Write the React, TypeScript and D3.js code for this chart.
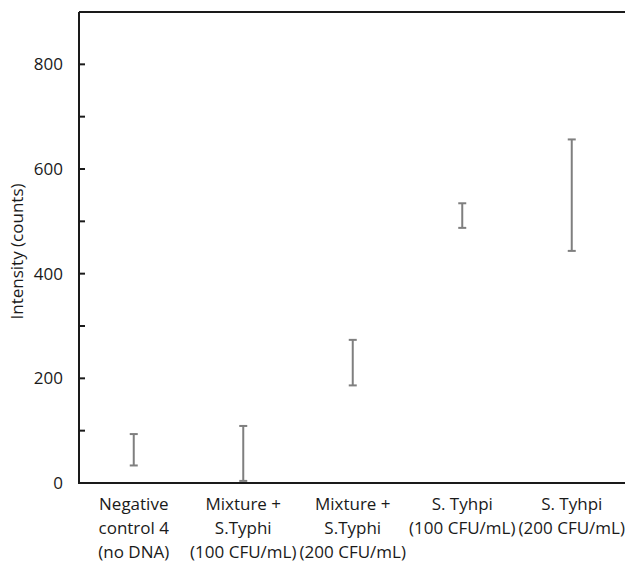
import * as d3 from "d3";

const categories = [
  ["Negative", "control 4", "(no DNA)"],
  ["Mixture +", "S.Typhi", "(100 CFU/mL)"],
  ["Mixture +", "S.Typhi", "(200 CFU/mL)"],
  ["S. Tyhpi", "(100 CFU/mL)"],
  ["S. Tyhpi", "(200 CFU/mL)"],
];
const means = [63.5, 56.5, 230, 511, 550];
const errors = [30, 52.5, 43.5, 23.5, 106.5];
const yTicks = [0, 200, 400, 600, 800];
const yMinorTicks = [100, 300, 500, 700];

const W = 625;
const H = 564;
const FONT = "'Open Sans', 'Noto Sans', sans-serif";

const App = () => {
  const left = 79;
  const top = 12;
  const bottom = 483;
  const right = 626.5;

  const x = d3
    .scaleBand()
    .domain(categories.map((_, i) => String(i)))
    .range([left, right]);
  const y = d3.scaleLinear().domain([0, 900]).range([bottom, top]);

  const barColor = "#7f7f7f";
  const cap = 4;

  return (
    <div style={{ position: "absolute", left: 0, top: 0 }}>
      <svg width={W} height={H} style={{ display: "block", background: "#fff" }}>
        {/* error bars */}
        {means.map((m, i) => {
          const cx = x(String(i))! + x.bandwidth() / 2;
          const y1 = y(m + errors[i]);
          const y0 = y(Math.max(0, m - errors[i]));
          return (
            <g key={i} stroke={barColor} strokeWidth={2}>
              <line x1={cx} x2={cx} y1={y1} y2={y0} />
              <line x1={cx - cap} x2={cx + cap} y1={y1} y2={y1} />
              <line x1={cx - cap} x2={cx + cap} y1={y0} y2={y0} />
            </g>
          );
        })}

        {/* frame */}
        <g stroke="#1a1a1a" strokeWidth={2} fill="none">
          <line x1={left} x2={left} y1={top} y2={bottom + 1} />
          <line x1={left} x2={W} y1={top} y2={top} />
          <line x1={left - 1} x2={W} y1={bottom} y2={bottom} />
          <line x1={right} x2={right} y1={top} y2={bottom} />
        </g>

        {/* y ticks, inside */}
        <g stroke="#1a1a1a" strokeWidth={2}>
          {yTicks.concat(yMinorTicks).filter((t) => t > 0).map((t) => (
            <line key={t} x1={left} x2={left + 6} y1={y(t)} y2={y(t)} />
          ))}
        </g>
        <g fontFamily={FONT} fontSize={17} fill="#1a1a1a">
          {yTicks.map((t) => (
            <text key={t} x={63} y={y(t)} dy="0.35em" textAnchor="end">
              {t}
            </text>
          ))}
          <text
            transform={`translate(23, ${(top + bottom) / 2 + 4}) rotate(-90)`}
            textAnchor="middle"
          >
            Intensity (counts)
          </text>
          {categories.map((lines, i) => {
            const cx = x(String(i))! + x.bandwidth() / 2;
            return (
              <text key={i} x={cx} y={510} textAnchor="middle">
                {lines.map((l, j) => (
                  <tspan key={j} x={cx} dy={j === 0 ? 0 : 24}>
                    {l}
                  </tspan>
                ))}
              </text>
            );
          })}
        </g>
      </svg>
    </div>
  );
};

export default App;
